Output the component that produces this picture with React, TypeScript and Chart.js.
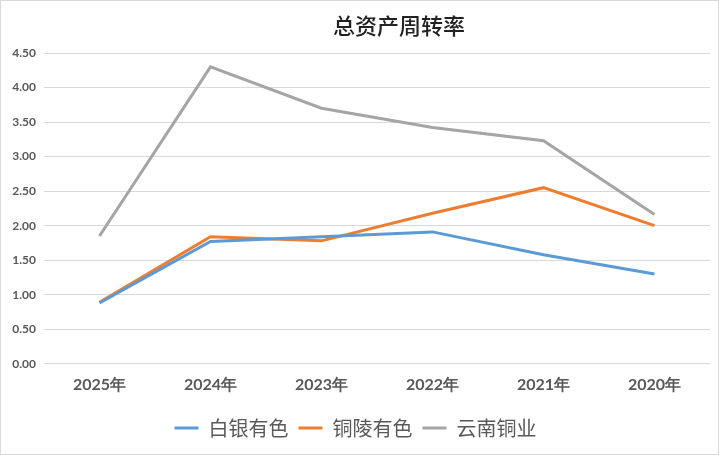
import React, { useEffect, useRef } from "react";
import { Chart, registerables } from "chart.js";

Chart.register(...registerables);

const categories = ["2025年", "2024年", "2023年", "2022年", "2021年", "2020年"];
const baiyin = [0.88, 1.77, 1.84, 1.91, 1.58, 1.30];
const tongling = [0.89, 1.84, 1.78, 2.18, 2.55, 2.0];
const yunnan = [1.85, 4.30, 3.70, 3.42, 3.23, 2.16];
const seriesNames = ["白银有色", "铜陵有色", "云南铜业"];
const titleText = "总资产周转率";

const titlePlugin = {
  id: "customTitle",
  afterDraw(chart: any) {
    const ctx = chart.ctx;
    ctx.save();
    ctx.font = "500 22px 'Noto Sans CJK SC'";
    ctx.fillStyle = "#222222";
    ctx.textAlign = "center";
    ctx.textBaseline = "middle";
    const ca = chart.chartArea;
    ctx.fillText(titleText, (ca.left + ca.right) / 2 + 22, 25);
    ctx.restore();
  },
};

export default function App() {
  const ref = useRef<HTMLCanvasElement | null>(null);
  useEffect(() => {
    document.body.style.margin = "0";
    const canvas = ref.current!;
    const chart = new Chart(canvas, {
      type: "line",
      data: {
        labels: categories,
        datasets: [
          { label: seriesNames[0], data: baiyin, borderColor: "#5B9BD5", backgroundColor: "#5B9BD5" },
          { label: seriesNames[1], data: tongling, borderColor: "#ED7D31", backgroundColor: "#ED7D31" },
          { label: seriesNames[2], data: yunnan, borderColor: "#A5A5A5", backgroundColor: "#A5A5A5" },
        ].map((d) => ({ ...d, borderWidth: 3, pointRadius: 0, tension: 0, fill: false })),
      },
      options: {
        animation: false,
        responsive: false,
        layout: { padding: { top: 52, right: 8, bottom: 6, left: 0 } },
        plugins: {
          title: { display: false },
          tooltip: { enabled: false },
          legend: {
            position: "bottom",
            labels: {
              usePointStyle: true,
              pointStyle: "line",
              pointStyleWidth: 24,
              boxHeight: 20,
              padding: 10,
              color: "#595959",
              font: { family: "'Noto Sans CJK SC'", size: 20 },
              generateLabels: (c: any) =>
                c.data.datasets.map((ds: any, i: number) => ({
                  text: ds.label,
                  strokeStyle: ds.borderColor,
                  fillStyle: ds.borderColor,
                  lineWidth: 3,
                  pointStyle: "line",
                  datasetIndex: i,
                  fontColor: "#595959",
                })),
            },
          },
        },
        scales: {
          x: {
            offset: true,
            afterFit: (s: any) => { s.height += 3; },
            grid: { display: false, drawTicks: false },
            border: { display: false },
            ticks: {
              color: "#595959",
              padding: 11,
              font: { family: "Lato", size: 16, weight: "bold" },
            },
          },
          y: {
            min: 0,
            max: 4.5,
            afterFit: (s: any) => { s.width = 43; },
            grid: { color: "#D9D9D9", drawTicks: false, lineWidth: 1 },
            border: { display: false },
            ticks: {
              stepSize: 0.5,
              color: "#595959",
              padding: 8,
              font: { family: "Lato", size: 12, weight: "bold" },
              callback: (v: any) => Number(v).toFixed(2),
            },
          },
        },
      },
      plugins: [titlePlugin],
    });
    return () => chart.destroy();
  }, []);
  return (
    <div style={{ width: 719, height: 455, boxSizing: "border-box", border: "1px solid #D9D9D9", background: "#fff" }}>
      <canvas ref={ref} width={717} height={453} style={{ display: "block" }} />
    </div>
  );
}
